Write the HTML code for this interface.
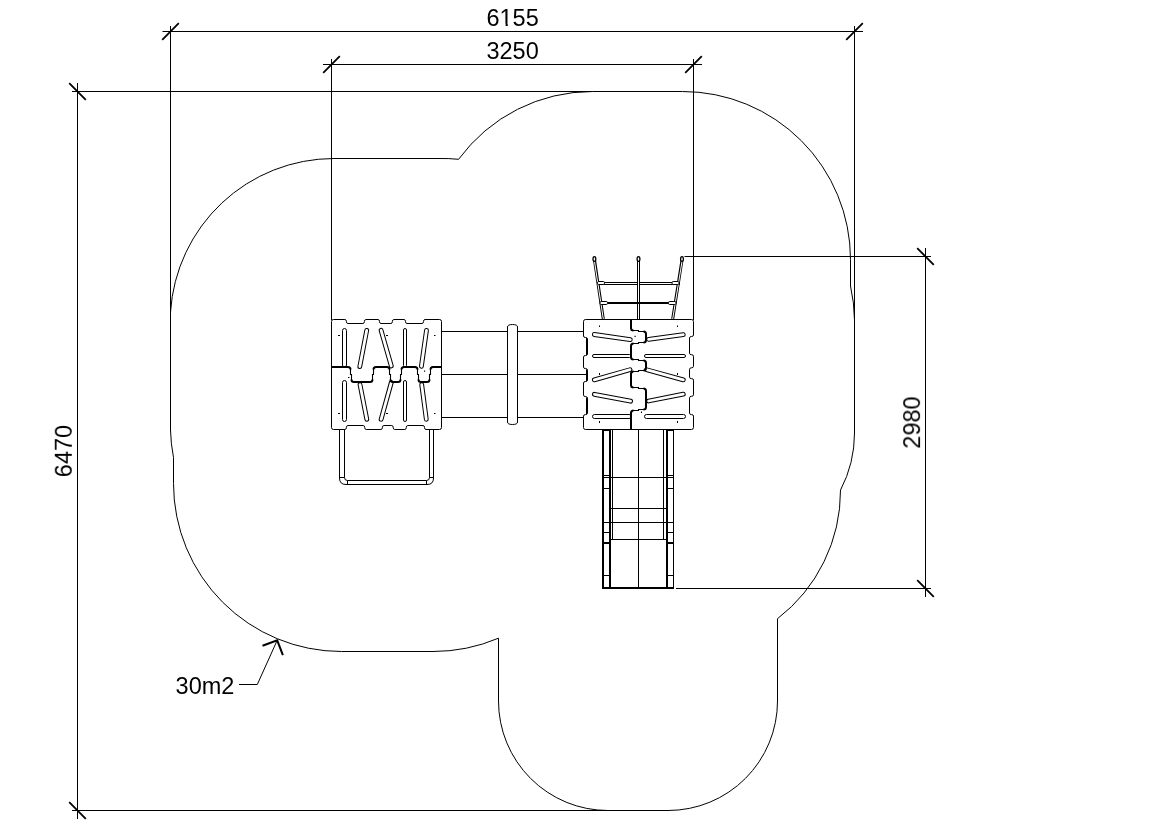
<!DOCTYPE html>
<html><head><meta charset="utf-8">
<style>
html,body{margin:0;padding:0;background:#fff;}
svg{display:block;}
text{font-family:"Liberation Sans",sans-serif;fill:#000;-webkit-font-smoothing:antialiased;}
.t{will-change:transform;}
</style></head>
<body>
<svg width="1169" height="827" viewBox="0 0 1169 827">
<defs>
<g id="plat">
<path fill="#fff" stroke="#000" stroke-width="1" d="M331.5 427.5 V321.5 Q331.5 319.5 333.5 319.5 H344.9 Q346.4 319.5 346.4 321.5 Q346.4 323.5 347.9 323.5 H362.9 Q364.4 323.5 364.4 321.5 Q364.4 319.5 365.9 319.5 H378 Q379.5 319.5 379.5 321.5 Q379.5 323.5 381 323.5 H390.9 Q392.4 323.5 392.4 321.5 Q392.4 319.5 393.9 319.5 H404 Q405.5 319.5 405.5 321.5 Q405.5 323.5 407 323.5 H422 Q423.5 323.5 423.5 321.5 Q423.5 319.5 425 319.5 H439.5 Q441.5 319.5 441.5 321.5 V427.5 Q441.5 429.5 439.5 429.5 H426 Q424.5 429.5 424.5 427.5 Q424.5 425.5 423 425.5 H407.8 Q406.3 425.5 406.3 427.5 Q406.3 429.5 404.8 429.5 H394.7 Q393.2 429.5 393.2 427.5 Q393.2 425.5 391.7 425.5 H383.9 Q382.4 425.5 382.4 427.5 Q382.4 429.5 380.9 429.5 H366.2 Q364.7 429.5 364.7 427.5 Q364.7 425.5 363.2 425.5 H347.9 Q346.4 425.5 346.4 427.5 Q346.4 429.5 344.9 429.5 H333.5 Q331.5 429.5 331.5 427.5 Z"/>
<g stroke-linecap="round" fill="none">
<path stroke="#000" stroke-width="4.8" d="M366.7 330.4 L359.8 366.6 M381.1 330.3 L391.3 366 M426.5 330.3 L421.4 366.3 M360 384.6 L366.8 419.3 M391.3 382.5 L381.1 419.3 M421.7 384.6 L426.3 419.3"/>
<path stroke="#fff" stroke-width="2.8" d="M366.7 330.4 L359.8 366.6 M381.1 330.3 L391.3 366 M426.5 330.3 L421.4 366.3 M360 384.6 L366.8 419.3 M391.3 382.5 L381.1 419.3 M421.7 384.6 L426.3 419.3"/>
</g>
<g fill="#fff" stroke="#000" stroke-width="1">
<rect x="342.5" y="328.5" width="4" height="38.5" rx="2"/><rect x="403.5" y="328.5" width="3" height="38.5" rx="1.5"/>
<rect x="342.5" y="380.5" width="4" height="41" rx="2"/><rect x="403.5" y="380.5" width="3" height="41" rx="1.5"/>
</g>
<path fill="none" stroke="#000" stroke-width="2" d="M331.5 367 H348.0 Q350.5 367 350.5 369.5 M351.5 379.5 Q351.5 382 354.0 382 H370.0 Q372.5 382 372.5 379.5 M373.5 369.5 Q373.5 367 376.0 367 H387.0 Q389.5 367 389.5 369.5 M390.5 379.5 Q390.5 382 393.0 382 H398.0 Q400.5 382 400.5 379.5 M401.5 369.5 Q401.5 367 404.0 367 H415.0 Q417.5 367 417.5 369.5 M418.5 379.5 Q418.5 382 421.0 382 H427.0 Q429.5 382 429.5 379.5 M430.5 369.5 Q430.5 367 433.0 367 H441.5"/>
<path fill="none" stroke="#000" stroke-width="1.1" d="M350.5 369 V374.5 H351.5 V380 M372.5 380 V374.5 H373.5 V369 M389.5 369 V374.5 H390.5 V380 M400.5 380 V374.5 H401.5 V369 M417.5 369 V374.5 H418.5 V380 M429.5 380 V374.5 H430.5 V369"/>
<g fill="#000">
<rect x="338" y="335" width="2" height="1"/><rect x="386" y="335" width="2" height="1"/><rect x="434" y="335" width="1.5" height="1"/>
<rect x="338" y="413" width="2" height="1"/><rect x="386" y="413" width="2" height="1"/><rect x="434" y="413" width="1.5" height="1"/>
<rect x="348" y="377" width="1.5" height="1"/><rect x="424" y="370.5" width="1.2" height="1.2"/>
</g>
</g>
</defs>
<g fill="none" stroke="#000" stroke-width="1">
<!-- boundary -->
<path id="bnd" d="M170.5 430 L170.5 312 A164 164 0 0 1 334 158.5 L439 158.5 A164 164 0 0 1 458.6 159.3 A165.5 165.5 0 0 1 592.5 91.5 L682.5 91.5 A168 168 0 0 1 850.5 259.5 L850.5 286 A161.5 161.5 0 0 1 854.5 320 L854.5 433 A123.4 123.4 0 0 1 840.5 490.1 A161.6 161.6 0 0 1 777.5 618.7 L777.5 701 A109.5 109.5 0 0 1 668 810.5 L608 810.5 A109.5 109.5 0 0 1 498.5 701 L498.5 638.2 A168 168 0 0 1 433 651.5 L341.5 651.5 A168 168 0 0 1 173.5 483.5 L173.5 457.5 A164 164 0 0 1 170.5 430 Z"/>
<!-- dims: 6155 -->
<path d="M162.5 31.5 H863 M170.5 26 V320 M854.5 26 V430"/>
<!-- 3250 -->
<path d="M323 64.5 H702 M331.5 59 V320 M693.5 59 V320"/>
<!-- 6470 -->
<path d="M77.5 83 V819 M72 91.5 H592.5 M72 810.5 H608"/>
<!-- 2980 -->
<path d="M925.5 248 V597 M684.5 256.5 H931 M676 588.5 H931"/>
<!-- leader -->
<path d="M239 684.5 H257.3 L277.2 640.3"/>
<!-- bridge -->
<path d="M441.5 331.5 H507.5 M517.5 331.5 H583.5 M441.5 374.5 H507.5 M517.5 374.5 H586.5 M441.5 417.5 H507.5 M517.5 417.5 H583.5"/>
<path d="M507.5 327 Q507.5 324.5 512.5 324.5 Q517.5 324.5 517.5 327 V422 Q517.5 424.5 512.5 424.5 Q507.5 424.5 507.5 422 Z"/>
<!-- ladder -->
<path d="M339.5 429.5 V478 Q339.5 484.5 346 484.5 H427 Q433.5 484.5 433.5 478 V429.5 M344.5 429.5 V477.5 Q344.5 480.5 347.5 480.5 H426.5 Q429.5 480.5 429.5 477.5 V429.5 M339.5 477.5 H344.5 M429.5 477.5 H433.5 M347.5 480.5 V484.5 M426.5 480.5 V484.5"/>
</g>
<use href="#plat"/>
<use href="#plat" transform="translate(638.5 374.5) rotate(-90) translate(-386.5 -374.5)"/>
<path fill="none" stroke="#000" stroke-width="1" d="M586.5 338 V355 M586.5 369.5 V381 M586.5 397.5 V414"/>
<!-- net -->
<g fill="none" stroke-linecap="butt">
<path stroke="#000" stroke-width="3" d="M594.5 260 L603.3 319 M638.5 260 V319 M682 260 L672.7 319 M597 283.5 H680"/>
<path stroke="#fff" stroke-width="1" d="M594.5 261.5 L603.3 319 M638.5 261.5 V319 M682 261.5 L672.7 319 M598 283.5 H637 M640 283.5 H679"/>
<path stroke="#fff" stroke-width="1" d="M638.5 283 V302"/>
<path stroke="#000" stroke-width="2" d="M600 303 H676"/>
</g>
<g fill="#fff" stroke="#000" stroke-width="1">
<rect x="597.5" y="281.5" width="7" height="3" rx="1.2"/><rect x="672" y="281.5" width="7" height="3" rx="1.2"/>
<rect x="600" y="301.5" width="7.5" height="3" rx="1.2"/><rect x="668.5" y="301.5" width="7.5" height="3" rx="1.2"/>
<ellipse cx="594.4" cy="259" rx="1.4" ry="2.3" stroke-width="1.3"/><ellipse cx="638.5" cy="259" rx="1.4" ry="2.3" stroke-width="1.3"/><ellipse cx="682" cy="259" rx="1.4" ry="2.3" stroke-width="1.3"/>
</g>
<!-- slide -->
<g fill="none" stroke="#000">
<path stroke-width="2" d="M603 429.5 V588 M610 429.5 V588 M667 429.5 V588 M602 543 H611 M666 543 H674 M602 588 H674"/>
<path stroke-width="1" d="M603 430.5 H610 M667 430.5 H673.5 M673.5 429.5 V588.5 M612.5 429.5 V539.5 M638.5 429.5 V588 M663.5 429.5 V539.5 M610 477.5 H667 M610 508.5 H667 M603 522.5 H673.5 M610 539.5 H667 M603 475.5 H610 M603 477.5 H610 M603 488.5 H610 M603 532.5 H610 M603 575.5 H610 M667 475.5 H673.5 M667 477.5 H673.5 M667 488.5 H673.5 M667 532.5 H673.5 M667 575.5 H673.5"/>
</g>
<g stroke="#000" stroke-width="2" fill="none">
<path stroke-width="1.8" d="M162.2 39.8 L178.8 23.2 M846.2 39.8 L862.8 23.2 M323.2 72.8 L339.8 56.2 M685.2 72.8 L701.8 56.2 M69.2 83.2 L85.8 99.8 M69.2 802.2 L85.8 818.8 M917.2 248.2 L933.8 264.8 M917.2 580.2 L933.8 596.8"/>
<path d="M262.5 645.8 L277.2 640.3 L282.9 655.2"/>
</g>
<g font-size="23.5" class="t" opacity="0.999">
<text x="512.6" y="25.8" text-anchor="middle">6155</text>
</g>
<g fill="#fff"><rect x="500.3" y="23.6" width="5.3" height="3"/><rect x="507.8" y="23.6" width="4.4" height="3"/></g>
<g font-size="23.5" class="t" opacity="0.999">
<text x="512.6" y="59.2" text-anchor="middle">3250</text>
<text x="175.6" y="694">30m2</text>
<text transform="translate(71.8 451) rotate(-90)" text-anchor="middle">6470</text>
<text transform="translate(920.1 422.5) rotate(-90)" text-anchor="middle">2980</text>
</g>
</svg>
</body></html>
